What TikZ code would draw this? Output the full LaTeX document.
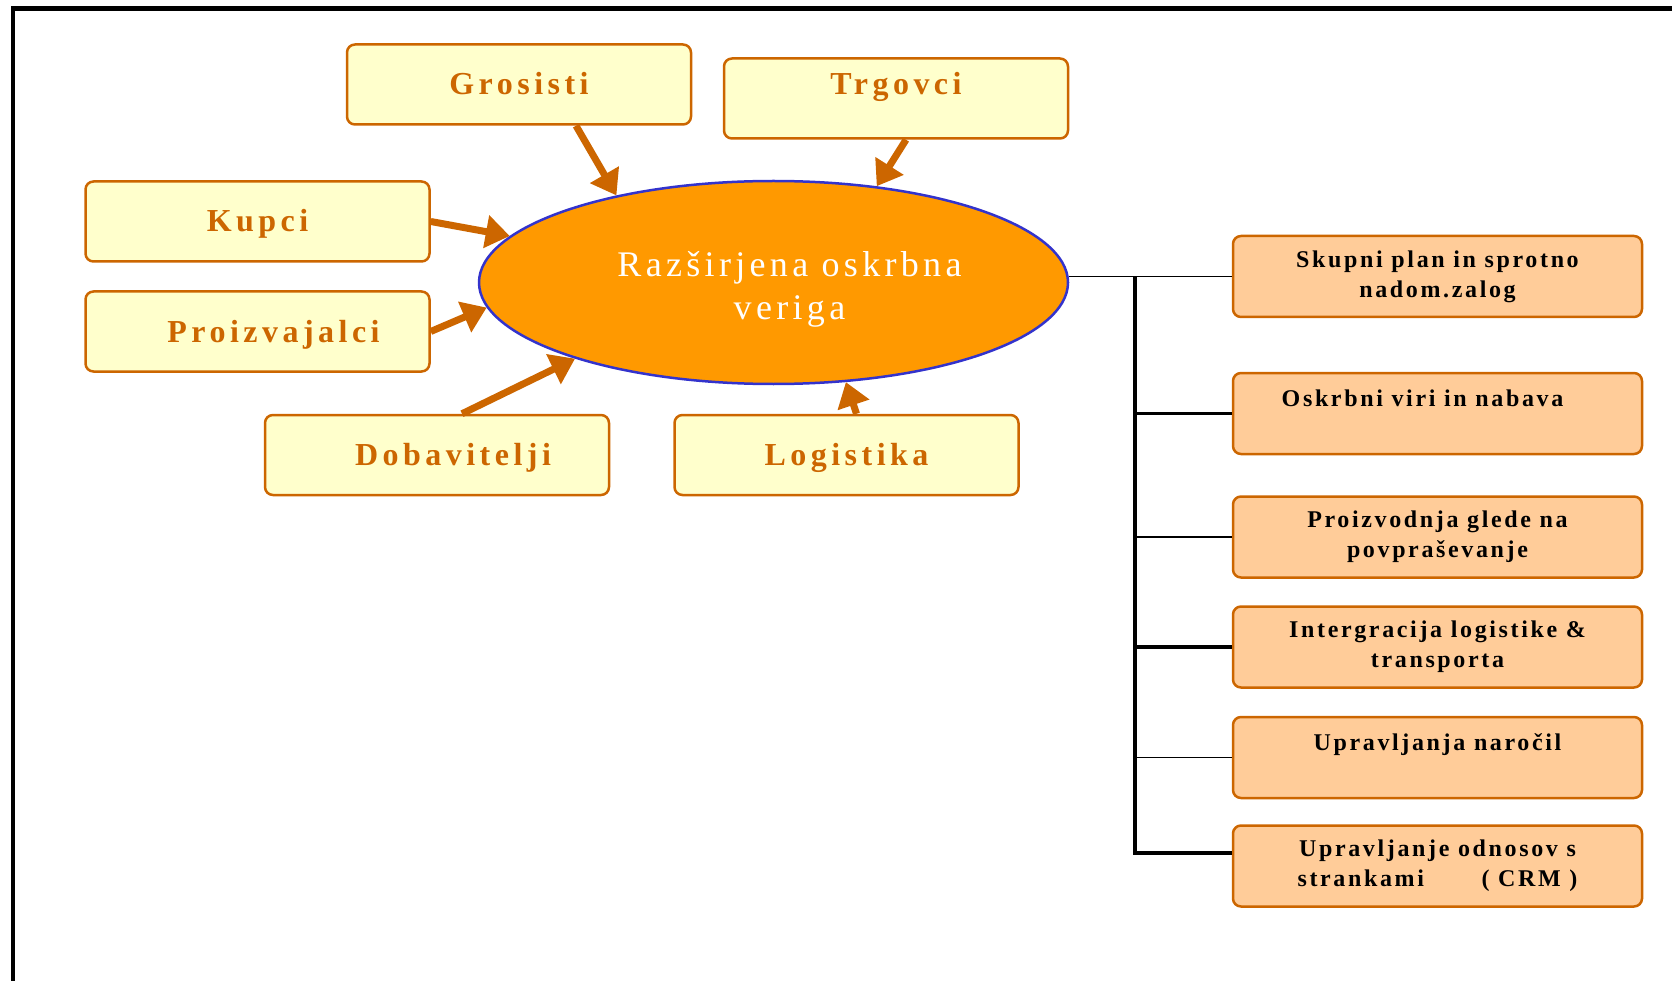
\documentclass[tikz,border=0pt]{standalone}
\usepackage{fontspec}
\setmainfont{Liberation Serif}
\usetikzlibrary{arrows.meta,shapes.geometric}
\definecolor{boxline}{HTML}{CC6600}
\definecolor{boxfill}{HTML}{FFFFCC}
\definecolor{taskfill}{HTML}{FFCC99}
\definecolor{hubfill}{HTML}{FF9900}
\definecolor{hubline}{HTML}{3333CC}
\tikzset{
  partnertext/.style={text=boxline,text height=21pt,text depth=0pt,
    font=\fontsize{32}{36}\selectfont\bfseries\addfontfeature{LetterSpace=14}},
  partner/.style={draw=boxline,fill=boxfill,line width=2.5pt,rounded corners=8pt,
    minimum width=344pt,minimum height=80pt,inner sep=0pt,partnertext},
  task/.style={draw=boxline,fill=taskfill,line width=2.5pt,rounded corners=8pt,
    minimum width=409pt,minimum height=81pt,inner sep=0pt,align=center,
    font=\fontsize{24}{30}\selectfont\bfseries\addfontfeature{LetterSpace=11}},
  hubtext/.style={text=white,align=center,font=\fontsize{36}{43}\selectfont\addfontfeature{LetterSpace=12}},
  feed/.style={draw=boxline,line width=7pt,-{Triangle[width=32pt,length=24pt]}},
  thinlink/.style={line width=1.5pt},
  thicklink/.style={line width=3.5pt},
}
\begin{document}
\begin{tikzpicture}[x=1pt,y=-1pt]
\useasboundingbox (0,0) rectangle (1672,981);
\draw[line width=4.5pt] (13,981) -- (13,8.5) -- (1672,8.5);
% supply chain partners
\node[ellipse,draw=hubline,fill=hubfill,line width=2.5pt,minimum width=589pt,minimum height=203pt,inner sep=0pt,
  label={[hubtext,xshift=16pt,yshift=-7pt]center:Razširjena oskrbna\\veriga}] (hub) at (773.5,282.5) {};
\node[partner] (grosisti) at (519,84.5) {Grosisti};
\node[partner,label={[partnertext,yshift=14pt]center:Trgovci}] (trgovci) at (896,98.5) {};
\node[partner] (kupci) at (257.5,221.5) {Kupci};
\node[partner] (proizvajalci) at (257.5,331.5) {\hspace*{32pt}Proizvajalci};
\node[partner] (dobavitelji) at (437,455) {\hspace*{32pt}Dobavitelji};
\node[partner] (logistika) at (846.5,455) {Logistika};
\draw[feed] ([xshift=57pt]grosisti.south) -- (hub.151);
\draw[feed] ([xshift=10pt]trgovci.south) -- (hub.43);
\draw[feed] (kupci.east) -- (hub.170);
\draw[feed] (proizvajalci.east) -- (hub.185);
\draw[feed] ([xshift=25pt]dobavitelji.north) -- (hub.201);
\draw[feed] ([xshift=10pt]logistika.north) -- (hub.306);
% functions
\node[task] (task1) at (1437.5,276.5) {Skupni plan in sprotno\\nadom.zalog};
\node[task] (task2) at (1437.5,413.5) {Oskrbni viri in nabava\hspace*{30pt}\\~};
\node[task] (task3) at (1437.5,537) {Proizvodnja glede na\\povpraševanje};
\node[task] (task4) at (1437.5,647) {Intergracija logistike \&\\transporta};
\node[task] (task5) at (1437.5,757.5) {Upravljanja naročil\\~};
\node[task] (task6) at (1437.5,866) {Upravljanje odnosov s\\strankami\hspace{2.4em}( CRM )};
\coordinate (trunk) at (1135,0);
\draw[thinlink] (task1.west) -- (task1.west -| hub.east);
\draw[thicklink] (task1.west -| trunk) |- ([yshift=13pt]task6.west);
\foreach \n/\w in {2/thicklink,3/thinlink,4/thicklink,5/thinlink}
  \draw[\w] (task\n.west) -- (task\n.west -| trunk);
\end{tikzpicture}
\end{document}
